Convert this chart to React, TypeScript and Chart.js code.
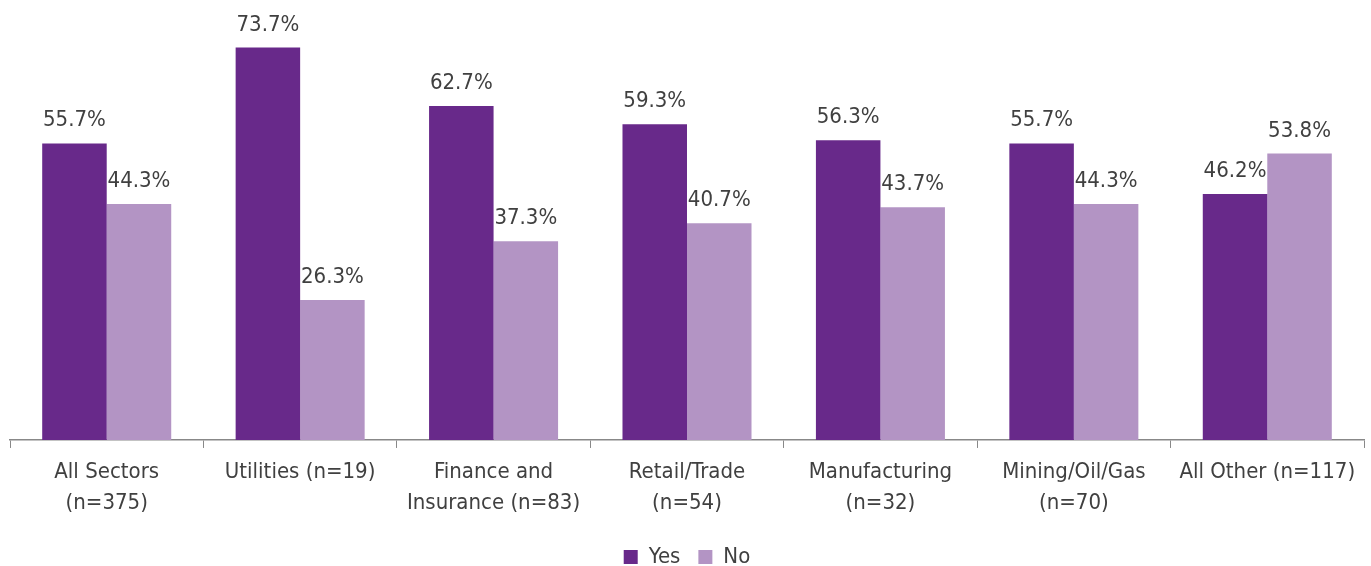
import React, { useEffect, useRef } from "react";
import { Chart, registerables } from "chart.js";

Chart.register(...registerables);

const categories: (string | string[])[] = [
  ["All Sectors", "(n=375)"],
  "Utilities (n=19)",
  ["Finance and", "Insurance (n=83)"],
  ["Retail/Trade", "(n=54)"],
  ["Manufacturing", "(n=32)"],
  ["Mining/Oil/Gas", "(n=70)"],
  "All Other (n=117)",
];
const yesValues = [55.7, 73.7, 62.7, 59.3, 56.3, 55.7, 46.2];
const noValues = [44.3, 26.3, 37.3, 40.7, 43.7, 44.3, 53.8];
const seriesNames = ["Yes", "No"];

const FONT = "'DejaVu Sans Condensed', 'Liberation Sans Narrow', sans-serif";
const TEXT = "#404040";

const dataLabels = {
  id: "dataLabels",
  afterDatasetsDraw(chart: any) {
    const ctx = chart.ctx;
    ctx.save();
    ctx.font = `22px ${FONT}`;
    ctx.fillStyle = TEXT;
    ctx.textAlign = "center";
    ctx.textBaseline = "alphabetic";
    chart.data.datasets.forEach((ds: any, i: number) => {
      const meta = chart.getDatasetMeta(i);
      meta.data.forEach((el: any, j: number) => {
        ctx.fillText(ds.data[j].toFixed(1) + "%", el.x, el.y - 17);
      });
    });
    ctx.restore();
  },
};

export default function App() {
  const ref = useRef<HTMLCanvasElement>(null);
  useEffect(() => {
    if (!ref.current) return;
    const chart = new Chart(ref.current, {
      type: "bar",
      data: {
        labels: categories,
        datasets: [
          { label: seriesNames[0], data: yesValues, backgroundColor: "#68298A" },
          { label: seriesNames[1], data: noValues, backgroundColor: "#B394C4" },
        ],
      },
      options: {
        animation: false,
        responsive: true,
        maintainAspectRatio: false,
        layout: { padding: { left: 10, right: 7, top: 14, bottom: -12 } },
        datasets: { bar: { categoryPercentage: 0.667, barPercentage: 1 } },
        scales: {
          x: {
            grid: {
              display: true,
              drawOnChartArea: false,
              drawTicks: true,
              tickLength: 8,
              color: "#888888",
              offset: true,
            },
            border: { display: true, color: "#888888", width: 1.5 },
            ticks: {
              color: TEXT,
              font: { family: FONT, size: 22, lineHeight: 1.41 },
              padding: 9,
              maxRotation: 0,
              autoSkip: false,
            },
          },
          y: { display: false, min: 0, max: 80 },
        },
        plugins: {
          legend: {
            position: "bottom",
            labels: {
              color: TEXT,
              font: { family: FONT, size: 22 },
              boxWidth: 14,
              boxHeight: 14,
              padding: 18,
            },
          },
          tooltip: { enabled: false },
        },
      },
      plugins: [dataLabels],
    });
    return () => chart.destroy();
  }, []);
  return (
    <div style={{ position: "absolute", left: 0, top: 0, width: 1371, height: 566 }}>
      <canvas ref={ref} />
    </div>
  );
}
